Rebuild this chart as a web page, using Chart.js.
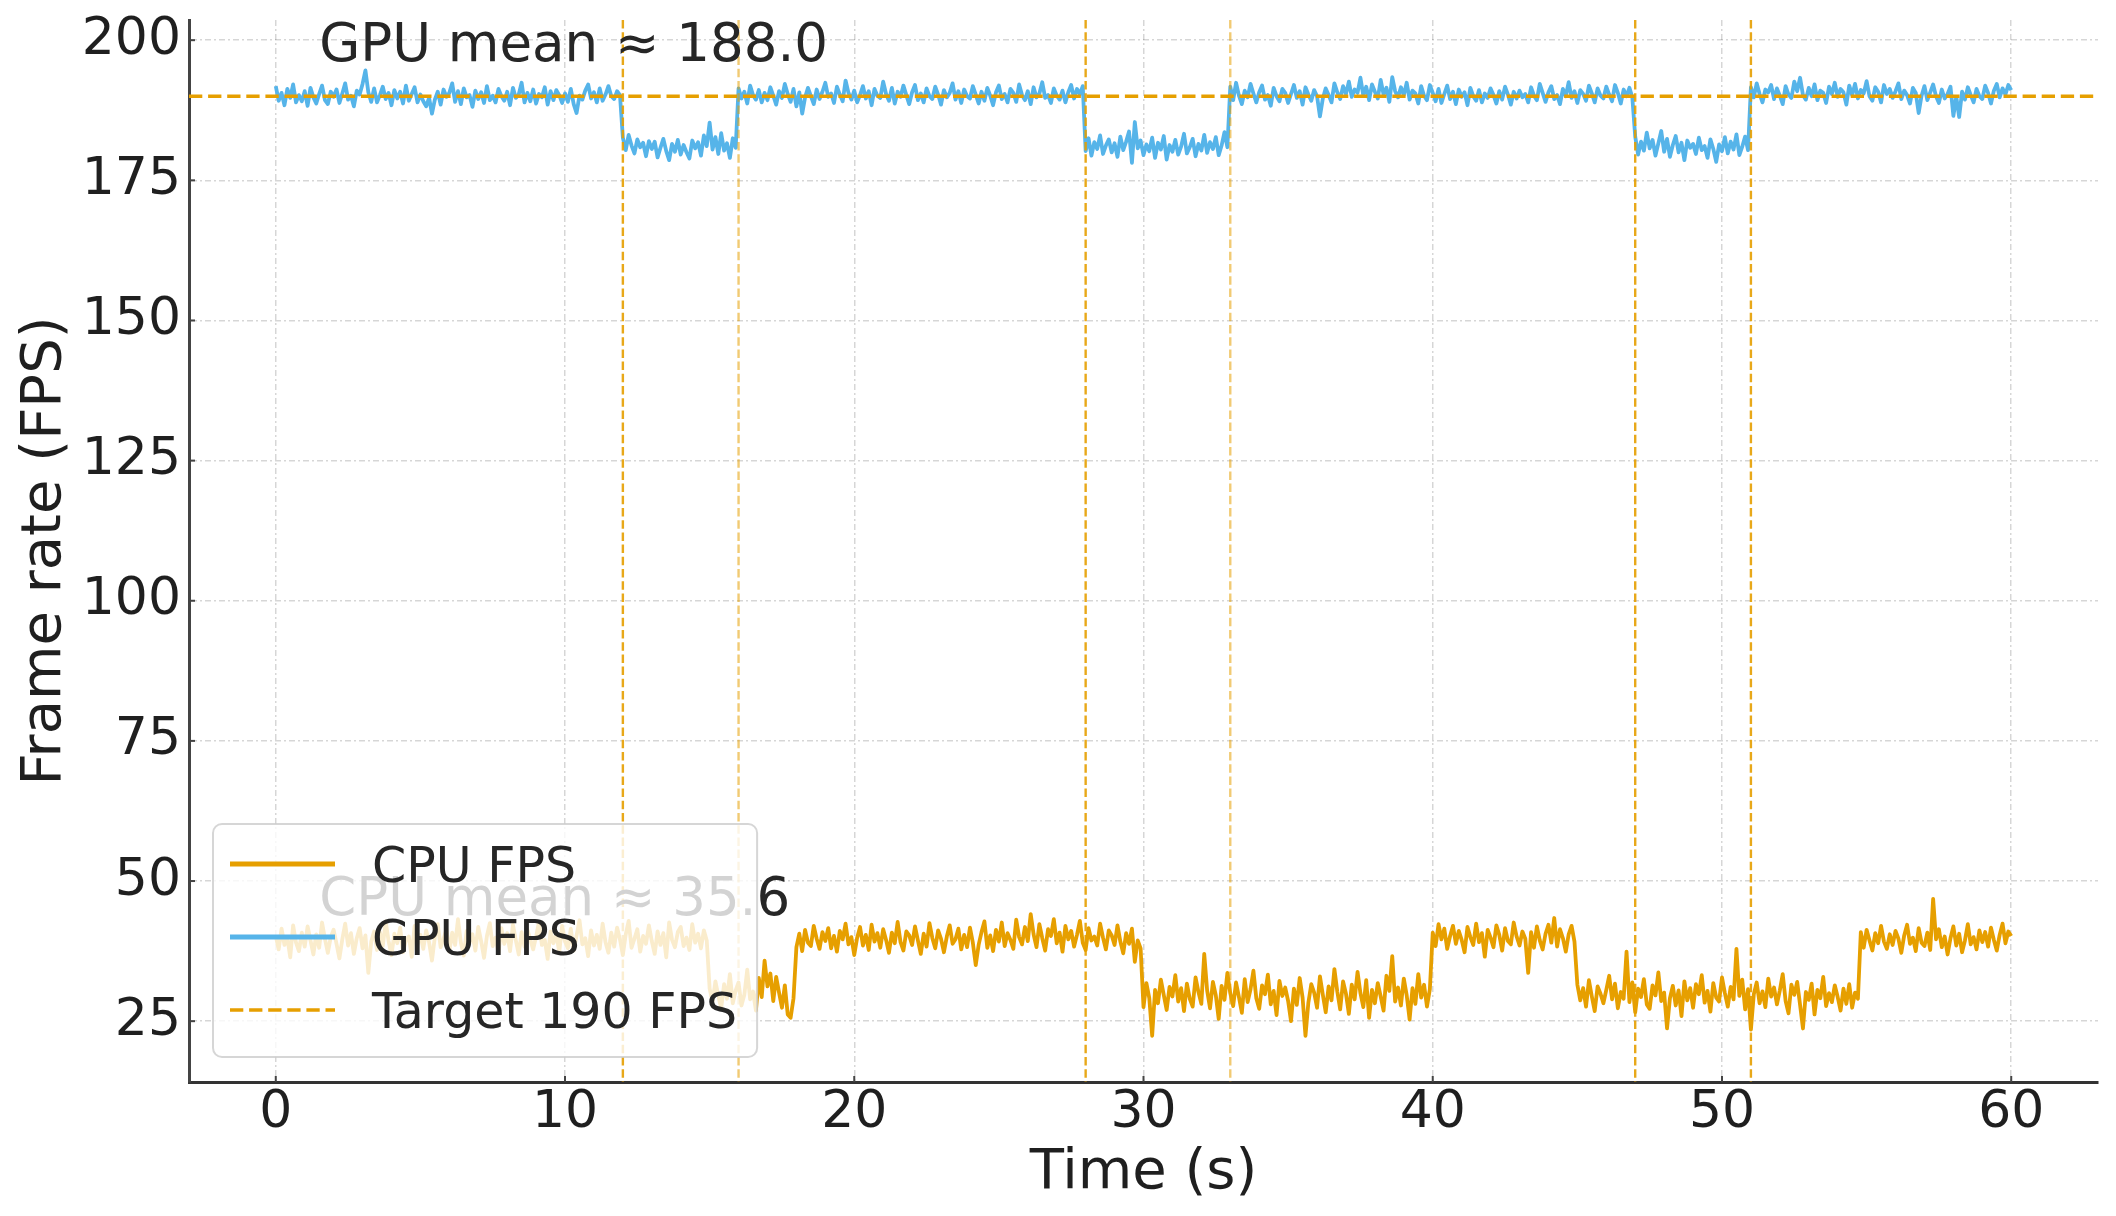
<!DOCTYPE html>
<html><head><meta charset="utf-8">
<script src="https://cdn.jsdelivr.net/npm/chart.js@4.4.1/dist/chart.umd.min.js"></script>
<style>html,body{margin:0;padding:0;background:#fff;}canvas{display:block;}</style>
</head><body>
<canvas id="c" width="2116" height="1216" style="width:2116px;height:1216px"></canvas>
<script>
// ---------- data ----------
const sampleStep = 0.1; // seconds between samples, first sample at t = 0
const cpuFps = [
40.2,37.8,41.5,38.6,39.9,36.4,42.1,39.0,37.5,40.8,
38.3,41.9,39.4,36.9,40.5,38.1,42.6,39.7,37.2,40.0,
41.3,38.8,36.2,39.6,42.4,38.5,40.7,37.0,39.8,41.6,
38.0,40.3,33.6,39.2,41.0,37.7,40.9,38.4,42.8,39.3,
36.8,40.6,38.9,41.7,37.3,39.5,40.1,36.5,42.0,38.7,
40.4,37.9,41.2,39.1,35.8,40.0,42.3,38.2,39.7,41.4,
37.4,40.8,38.6,43.2,39.0,36.7,41.1,38.9,40.5,37.6,
41.8,39.3,36.3,40.2,42.5,38.4,39.9,37.1,41.6,38.8,
40.7,37.5,42.2,39.4,36.9,40.9,38.3,41.3,39.6,37.8,
40.1,42.7,38.6,39.5,36.1,41.0,38.9,40.6,37.3,42.0,
39.2,38.0,41.5,37.6,40.3,43.0,38.7,39.8,36.6,41.2,
38.5,40.4,37.9,42.4,39.1,37.2,40.8,38.3,41.7,39.6,
36.8,40.5,42.9,38.1,39.7,41.4,37.4,40.2,38.8,42.1,
39.3,37.0,41.0,38.6,40.7,36.4,42.6,39.5,38.2,40.9,
41.8,38.4,39.9,37.7,42.3,39.0,40.6,38.0,41.2,39.4,
30.8,28.4,32.1,29.5,27.3,31.6,29.0,33.4,28.2,30.5,
31.9,27.8,29.7,34.2,28.9,30.3,26.9,32.7,29.3,35.8,
31.2,33.5,28.6,32.9,30.1,27.4,31.4,26.2,25.6,29.1,
38.2,40.6,37.5,41.3,39.0,38.4,42.0,39.7,37.9,40.9,
39.3,41.6,38.0,40.2,37.4,41.1,39.6,42.4,38.7,40.0,
36.8,39.9,41.8,38.5,40.4,37.7,42.2,39.2,40.7,38.1,
41.4,39.5,37.2,40.8,38.9,42.7,39.1,37.6,41.0,40.3,
38.6,41.9,39.4,37.0,40.6,38.3,42.5,39.8,38.0,41.2,
39.7,37.3,40.1,42.1,38.8,39.6,41.5,37.8,40.4,38.2,
41.7,39.0,35.0,38.6,40.9,42.8,38.1,40.3,37.5,41.3,
39.2,42.6,38.4,40.7,39.5,37.9,43.1,40.0,38.7,41.8,
39.3,44.1,40.5,38.2,42.3,39.8,37.6,41.4,40.2,43.2,
38.9,40.8,37.4,42.0,39.6,41.1,38.3,40.4,42.9,39.0,
37.7,41.6,39.4,40.1,38.5,42.4,39.9,37.8,41.2,40.3,
38.6,42.1,39.2,37.1,40.7,38.8,41.5,35.6,39.4,38.0,
27.5,31.8,29.1,22.4,30.6,28.2,32.4,29.7,27.0,31.1,
29.4,33.2,28.5,30.9,26.8,31.7,29.0,27.6,32.8,30.2,
28.1,37.0,30.5,27.3,32.0,29.6,25.4,31.3,28.8,33.6,
30.0,27.7,31.9,29.3,26.5,32.5,28.4,30.7,34.0,29.1,
27.2,31.4,29.8,33.3,28.0,30.4,26.1,32.2,29.5,31.0,
28.6,25.0,30.8,27.9,32.7,29.2,22.4,28.3,31.6,30.1,
27.4,33.0,29.7,26.6,31.2,28.7,34.3,30.3,27.1,32.1,
29.9,26.3,31.5,28.9,33.8,30.0,27.5,32.3,25.6,30.6,
28.2,31.8,29.4,26.9,33.1,30.4,36.6,28.5,31.0,27.8,
32.6,29.6,25.3,30.9,28.1,33.4,29.2,31.5,27.6,30.7,
40.8,38.4,42.3,39.6,41.5,37.9,40.2,42.0,38.8,41.1,
39.5,37.3,41.8,40.0,38.6,42.4,39.1,40.7,36.5,41.3,
39.9,38.2,42.1,40.4,37.6,41.6,39.3,38.7,42.6,40.1,
38.5,41.0,39.7,33.6,40.9,38.1,41.9,39.4,37.8,40.6,
42.2,39.0,43.4,38.3,41.4,39.8,37.4,40.5,42.0,39.2,
31.5,28.7,30.9,27.6,32.3,29.4,26.8,31.2,29.9,28.2,
30.6,33.1,28.9,31.7,27.3,30.2,29.0,37.4,28.4,31.9,
26.6,30.8,29.3,32.5,28.0,27.2,31.4,29.6,33.7,28.6,
30.1,23.7,29.1,31.3,27.8,30.5,25.9,32.1,28.7,30.9,
27.4,31.6,29.8,33.2,28.3,30.4,26.7,31.8,29.2,28.5,
32.8,30.0,27.6,31.1,28.9,37.9,29.5,32.4,27.1,30.7,
23.5,29.8,31.9,28.2,30.3,27.5,32.6,29.4,31.0,28.0,
30.5,33.4,28.6,26.4,31.5,29.7,32.0,27.9,23.7,30.2,
28.8,31.7,26.2,30.6,29.1,32.9,27.7,30.0,28.4,31.4,
29.3,26.9,30.8,28.1,31.6,27.4,30.1,29.0,40.9,38.1,
41.3,39.4,37.6,40.7,38.9,42.0,39.2,37.9,40.5,38.6,
41.1,39.7,37.2,40.3,42.2,38.8,39.9,37.5,41.6,39.0,
38.4,40.8,37.7,46.8,39.6,41.4,38.2,40.1,36.9,39.8,
41.9,38.5,40.6,37.3,39.4,42.3,38.7,40.0,37.8,41.2,
39.1,40.9,38.3,41.7,39.5,37.6,40.4,42.4,38.9,41.0,
40.2
];
const gpuFps = [
191.8,189.2,190.6,188.4,191.3,189.7,192.1,188.9,190.2,189.1,
190.9,188.3,191.5,189.8,188.7,190.4,191.9,189.3,188.6,190.8,
189.9,191.2,188.8,190.5,192.3,189.4,190.1,188.2,191.0,190.3,
192.2,194.6,190.7,189.0,191.4,188.9,190.2,191.7,189.5,190.6,
188.4,191.1,189.6,190.8,188.7,191.9,189.2,190.4,191.6,188.9,
190.3,189.1,188.2,189.7,186.9,189.4,190.8,188.5,191.2,189.9,
190.6,192.3,189.0,190.9,188.6,191.4,189.8,190.2,188.1,191.0,
189.5,190.7,188.8,191.8,189.3,190.1,188.9,191.3,190.0,189.2,
190.8,188.4,191.5,189.7,190.3,192.4,188.9,190.6,189.1,191.2,
188.7,190.4,189.8,191.6,188.5,190.9,189.3,191.1,190.2,188.8,
190.5,189.0,191.3,188.6,187.0,190.1,189.4,191.0,192.1,189.6,
190.7,188.9,191.4,189.2,190.3,191.8,190.0,189.5,190.9,190.2,
182.6,180.4,183.1,181.2,179.8,182.3,180.9,181.7,179.3,182.0,
180.6,181.9,179.1,180.8,182.4,180.2,178.6,181.5,180.1,182.2,
179.6,181.3,180.0,178.9,182.1,180.7,181.8,179.4,183.0,181.1,
185.3,180.5,182.7,179.7,183.4,180.3,181.6,179.0,182.5,180.8,
191.4,189.6,190.8,188.7,191.9,190.2,189.4,191.1,188.9,190.6,
189.3,191.6,190.1,188.5,190.9,189.7,192.2,190.4,189.0,191.3,
188.2,190.7,186.9,189.8,191.5,190.0,188.6,191.2,189.5,190.8,
192.4,189.9,190.5,188.8,191.7,190.3,189.1,192.8,190.6,189.4,
191.0,188.9,190.2,191.8,189.6,190.9,188.4,191.3,190.1,189.7,
192.6,190.4,189.2,191.5,188.7,190.8,189.9,191.9,190.2,188.6,
190.7,192.0,189.3,190.5,188.9,191.4,190.0,189.5,191.7,190.3,
188.5,191.1,189.8,190.6,192.3,189.4,190.9,188.8,191.2,190.0,
189.6,191.8,190.3,188.7,190.8,189.2,191.5,190.1,188.4,190.7,
191.9,189.5,190.4,188.9,191.3,190.6,189.0,192.1,190.2,189.3,
190.9,188.6,191.6,189.8,190.5,192.5,189.7,190.2,188.8,191.4,
190.1,189.4,191.0,188.9,190.7,192.0,189.6,191.3,190.4,191.8,
180.2,182.5,179.4,181.8,180.6,183.0,179.7,181.2,182.3,180.0,
181.6,179.2,182.8,180.4,181.9,183.7,178.1,185.4,180.7,182.1,
179.5,181.4,180.2,182.6,179.0,181.7,180.5,182.9,178.7,181.3,
180.1,182.2,179.6,181.0,183.3,179.8,180.9,182.4,179.3,181.5,
180.3,183.1,179.9,181.8,180.6,182.7,179.5,181.2,183.6,180.9,
191.7,189.3,192.4,190.1,188.6,191.0,189.8,192.2,190.5,188.9,
190.7,191.9,189.4,190.2,188.3,191.5,190.0,189.1,191.3,190.6,
188.8,190.4,192.0,189.7,190.9,188.5,191.6,190.3,189.2,191.1,
190.0,186.4,189.6,191.4,190.2,188.9,192.3,190.7,189.5,191.8,
190.4,192.6,189.9,191.2,190.6,193.3,190.1,191.7,189.3,192.1,
190.8,189.6,192.9,190.3,191.5,189.0,193.4,190.9,189.8,191.6,
190.2,192.4,189.4,191.0,190.5,188.7,191.8,190.1,189.3,192.0,
190.6,189.1,191.3,188.8,190.4,191.9,189.5,190.8,188.6,191.2,
189.9,190.7,188.4,191.5,190.0,189.2,191.1,188.9,190.5,189.7,
191.4,190.2,188.7,190.9,189.4,191.7,190.3,188.5,190.8,189.6,
191.0,189.8,190.4,188.9,191.6,190.1,189.3,192.2,190.6,189.0,
190.7,191.8,189.5,190.2,188.6,191.3,190.0,192.5,189.7,190.9,
188.8,191.1,190.4,189.2,191.9,190.5,188.9,191.4,190.1,189.6,
191.7,190.3,189.1,192.0,190.6,188.7,191.2,190.0,191.5,189.8,
182.8,179.6,181.9,180.3,183.5,180.7,182.2,179.4,181.6,183.8,
180.1,182.4,179.2,181.3,182.9,180.0,181.7,178.6,182.1,180.8,
181.5,179.7,182.6,180.4,181.1,179.0,182.3,180.6,178.3,181.4,
180.2,182.7,179.8,181.9,180.5,183.2,179.5,181.0,182.8,180.4,
191.6,189.8,192.3,190.4,188.9,191.2,190.7,192.0,189.5,191.4,
190.1,188.6,191.8,190.3,189.7,192.6,190.9,193.3,190.2,189.4,
191.5,190.0,192.1,189.3,191.0,190.6,188.8,191.7,190.4,192.4,
189.9,191.3,190.7,188.5,191.9,190.2,192.2,189.6,191.1,190.5,
192.7,190.0,189.2,191.6,190.8,188.9,192.0,190.4,191.3,189.7,
190.9,192.3,189.5,191.0,190.2,188.7,191.5,190.6,187.0,190.1,
191.8,189.3,190.7,192.1,190.0,188.8,191.2,189.6,190.4,191.7,
186.5,189.9,186.3,190.8,189.4,191.6,190.2,188.9,191.3,190.0,
189.5,191.9,190.6,188.7,191.0,192.2,189.8,191.4,190.3,192.0,
191.1
];
const targetFps = 190;
const eventTimes = [12, 16, 28, 33, 47, 51];
const xTickValues = [0, 10, 20, 30, 40, 50, 60];
const yTickValues = [25, 50, 75, 100, 125, 150, 175, 200];
const xLimits = [-3, 63];
const yLimits = [14.15, 203.6];
const gpuMeanText = "GPU mean \u2248 188.0";
const cpuMeanText = "CPU mean \u2248 35.6";
const gpuMeanValue = 188.0;
const cpuMeanValue = 35.6;
const seriesNames = ["CPU FPS", "GPU FPS", "Target 190 FPS"];
const xTitle = "Time (s)";
const yTitle = "Frame rate (FPS)";

// ---------- styles ----------
const ORANGE = "#E69F00", BLUE = "#56B4E9";
const FONT = "'DejaVu Sans', 'Liberation Sans', sans-serif";
const eventAlpha = [0.9, 0.55, 0.9, 0.55, 0.9, 0.9];
const meanTextX = 1.5, meanTextLift = 8.3;

const toPoints = arr => arr.map((v, i) => ({x: Math.round(i * sampleStep * 10) / 10, y: v}));

const overlay = {
  id: 'overlay',
  afterDatasetsDraw(chart) {
    const {ctx, chartArea: a, scales: {x, y}} = chart;
    ctx.save();
    ctx.beginPath(); ctx.rect(a.left, a.top, a.right - a.left, a.bottom - a.top); ctx.clip();
    const ty = y.getPixelForValue(targetFps);
    ctx.strokeStyle = ORANGE; ctx.lineWidth = 3.6; ctx.setLineDash([13.3, 5.8]);
    ctx.beginPath(); ctx.moveTo(a.left, ty); ctx.lineTo(a.right, ty); ctx.stroke();
    ctx.lineWidth = 2.4; ctx.setLineDash([8.5, 3.7]);
    eventTimes.forEach((t, i) => {
      const px = x.getPixelForValue(t);
      ctx.globalAlpha = eventAlpha[i];
      ctx.beginPath(); ctx.moveTo(px, a.top); ctx.lineTo(px, a.bottom); ctx.stroke();
    });
    ctx.globalAlpha = 1; ctx.setLineDash([]);
    ctx.restore();
    ctx.save();
    ctx.strokeStyle = "#444"; ctx.lineWidth = 2;
    xTickValues.forEach(v => { const px = x.getPixelForValue(v); ctx.beginPath(); ctx.moveTo(px, a.bottom); ctx.lineTo(px, a.bottom - 6); ctx.stroke(); });
    yTickValues.forEach(v => { const py = y.getPixelForValue(v); ctx.beginPath(); ctx.moveTo(a.left, py); ctx.lineTo(a.left + 6, py); ctx.stroke(); });
    ctx.restore();
    ctx.save();
    ctx.font = "53px " + FONT; ctx.fillStyle = "#262626"; ctx.textBaseline = "alphabetic"; ctx.textAlign = "left";
    ctx.fillText(gpuMeanText, x.getPixelForValue(meanTextX), y.getPixelForValue(gpuMeanValue + meanTextLift));
    ctx.fillText(cpuMeanText, x.getPixelForValue(meanTextX), y.getPixelForValue(cpuMeanValue + meanTextLift));
    ctx.restore();
    ctx.save();
    ctx.font = "49px " + FONT;
    const tw = Math.max(...seriesNames.map(s => ctx.measureText(s).width));
    const padL = 17, handle = 105, gap = 37, padR = 20;
    const bw = padL + handle + gap + tw + padR, bh = 233;
    const bx = a.left + 24, by = a.bottom - 25 - bh;
    ctx.beginPath();
    ctx.roundRect(bx, by, bw, bh, 9);
    ctx.fillStyle = "rgba(255,255,255,0.8)"; ctx.fill();
    ctx.strokeStyle = "rgba(204,204,204,0.8)"; ctx.lineWidth = 2; ctx.stroke();
    const rows = [by + 40, by + 113, by + 186];
    const handles = [{c: ORANGE, w: 5, d: []}, {c: BLUE, w: 5, d: []}, {c: ORANGE, w: 3.6, d: [13.3, 5.8]}];
    rows.forEach((ry, i) => {
      const h = handles[i];
      ctx.strokeStyle = h.c; ctx.lineWidth = h.w; ctx.setLineDash(h.d);
      ctx.beginPath(); ctx.moveTo(bx + padL, ry); ctx.lineTo(bx + padL + handle, ry); ctx.stroke();
      ctx.setLineDash([]);
      ctx.fillStyle = "#262626"; ctx.textBaseline = "alphabetic";
      ctx.fillText(seriesNames[i], bx + padL + handle + gap, ry + 18);
    });
    ctx.restore();
  }
};

new Chart(document.getElementById('c'), {
  type: 'line',
  data: {
    datasets: [
      {label: seriesNames[1], data: toPoints(gpuFps), borderColor: BLUE, borderWidth: 3.8, borderJoinStyle: 'round', order: 1},
      {label: seriesNames[0], data: toPoints(cpuFps), borderColor: ORANGE, borderWidth: 3.8, borderJoinStyle: 'round', order: 2}
    ]
  },
  options: {
    responsive: false, animation: false, devicePixelRatio: 1,
    layout: {padding: {left: 0, right: 18, top: 20, bottom: 0}},
    elements: {point: {radius: 0}, line: {tension: 0}},
    plugins: {legend: {display: false}, tooltip: {enabled: false}},
    scales: {
      x: {
        type: 'linear', min: xLimits[0], max: xLimits[1],
        afterBuildTicks: s => { s.ticks = xTickValues.map(v => ({value: v})); },
        afterFit: s => { s.height = 134; s.paddingLeft = 0; s.paddingRight = 0; },
        ticks: {font: {family: FONT, size: 52}, color: '#1f1f1f', padding: 0, maxRotation: 0, callback: v => String(v)},
        grid: {color: 'rgba(0,0,0,0.16)', lineWidth: 1.5, drawTicks: false},
        border: {display: true, color: '#333', width: 3, dash: [6, 3, 2, 3]},
        title: {display: true, text: xTitle, font: {family: FONT, size: 56}, color: '#1f1f1f', padding: {top: 0, bottom: 9}}
      },
      y: {
        type: 'linear', min: yLimits[0], max: yLimits[1],
        afterBuildTicks: s => { s.ticks = yTickValues.map(v => ({value: v})); },
        afterFit: s => { s.width = 189; s.paddingTop = 0; s.paddingBottom = 0; },
        ticks: {font: {family: FONT, size: 52}, color: '#1f1f1f', padding: 8, callback: v => String(v)},
        grid: {color: 'rgba(0,0,0,0.16)', lineWidth: 1.5, drawTicks: false},
        border: {display: true, color: '#444', width: 3, dash: [6, 3, 2, 3]},
        title: {display: true, text: yTitle, font: {family: FONT, size: 56}, color: '#1f1f1f', padding: {top: 12, bottom: 0}}
      }
    }
  },
  plugins: [overlay]
});
</script>
</body></html>
